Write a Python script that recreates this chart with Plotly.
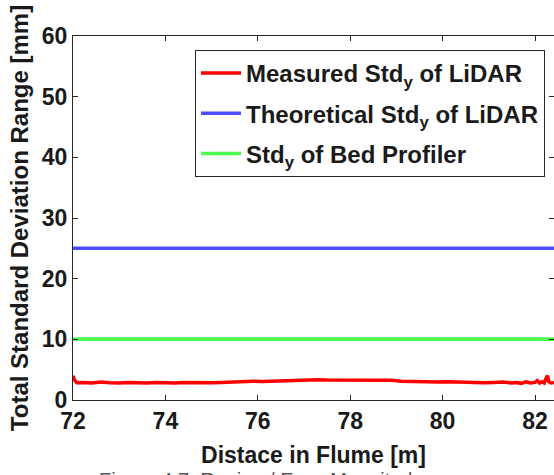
import plotly.graph_objects as go

# ---- data ----
x_measured = [72.00, 72.03, 72.08,
              72.2, 72.4, 72.6, 72.8, 73.0, 73.2, 73.4, 73.6, 73.8, 74.0, 74.2, 74.4, 74.6, 74.8, 75.0, 75.2, 75.4,
              75.5, 75.7, 75.9, 76.1, 76.3, 76.5, 76.7, 76.9, 77.1, 77.3, 77.5, 77.7, 77.9, 78.1, 78.3,
              78.5, 78.7, 78.9, 79.1, 79.3, 79.5, 79.7, 79.9, 80.1, 80.3, 80.5, 80.7, 80.9, 81.1, 81.3, 81.5,
              81.6, 81.7, 81.8, 81.9, 82.0,
              82.05, 82.1, 82.15, 82.2, 82.24, 82.27, 82.3, 82.35, 82.41]
y_measured = [4.0, 3.3, 2.85,
              2.9, 2.8, 2.95, 2.85, 2.8, 2.9, 2.85, 2.8, 2.9, 2.85, 2.8, 2.9, 2.85, 2.9, 2.85, 2.9, 2.95,
              3.05, 3.0, 3.1, 3.05, 3.1, 3.1, 3.25, 3.3, 3.3, 3.35, 3.3, 3.3, 3.35, 3.3, 3.3,
              3.3, 3.3, 3.25, 3.1, 3.05, 3.1, 3.05, 2.95, 3.0, 2.95, 2.9, 2.95, 2.85, 2.9, 2.95, 2.8,
              2.9, 2.75, 3.0, 2.8, 2.9,
              3.2, 2.8, 3.0, 2.8, 3.6, 4.0, 3.0, 2.8, 2.9]
x_const = [72.0, 82.5]
y_theoretical = [25, 25]
y_bed_profiler = [10, 10]

names = ["Measured Std<sub>y</sub> of LiDAR",
         "Theoretical Std<sub>y</sub> of LiDAR",
         "Std<sub>y</sub> of Bed Profiler"]
colors = ["#FF0000", "#4D4DFF", "#4DFF4D"]

x_ticks = [72, 74, 76, 78, 80, 82]
y_ticks = [0, 10, 20, 30, 40, 50, 60]

W, H = 554, 475
L, T, B, R = 73, 36, 75, 0
px_per_unit = 46.2
x_range = [72, 72 + (W - L - R) / px_per_unit]
y_range = [0, 60]

FONT = "Liberation Sans, Arial, sans-serif"
AX = "#262626"

fig = go.Figure()
series = [(x_measured, y_measured), (x_const, y_theoretical), (x_const, y_bed_profiler)]
for i, (xs, ys) in enumerate(series):
    fig.add_trace(go.Scatter(x=xs, y=ys, mode="lines", name=f"<b>{names[i]}</b>",
                             legendgroup=f"g{i}",
                             line=dict(color=colors[i], width=3.5)))
# same green line on the right-hand axis so that its mirrored ticks get drawn
fig.add_trace(go.Scatter(x=x_const, y=y_bed_profiler, mode="lines", yaxis="y2", showlegend=False,
                         hoverinfo="skip", line=dict(color=colors[2], width=3.5)))

tickfont = dict(family=FONT, size=23, color="#1a1a1a")

fig.update_layout(
    width=W, height=H,
    margin=dict(l=L, r=R, t=T, b=B, pad=0),
    paper_bgcolor="white", plot_bgcolor="white",
    font=dict(family=FONT, size=22, color="#1a1a1a"),
    showlegend=True,
    legend=dict(
        x=(195 - L) / (W - L - R), y=(400 - 50) / (400 - T),
        xanchor="left", yanchor="top",
        bgcolor="white", bordercolor=AX, borderwidth=1,
        font=dict(family=FONT, size=24, color="#1a1a1a"),
        itemwidth=40, tracegroupgap=6,
    ),
    xaxis=dict(
        range=x_range, tickvals=x_ticks, ticktext=[f"<b>{v}</b>" for v in x_ticks],
        showline=True, linecolor=AX, linewidth=1, mirror="ticks",
        ticks="inside", ticklen=5, tickcolor=AX, tickwidth=1,
        showgrid=False, zeroline=False, tickfont=tickfont,
        title=dict(text="<b>Distace in Flume [m]</b>", font=dict(family=FONT, size=23), standoff=14),
    ),
    yaxis=dict(
        range=y_range, tickvals=y_ticks, ticktext=[f"<b>{v}</b>" for v in y_ticks],
        showline=True, linecolor=AX, linewidth=1, mirror=False,
        ticks="inside", ticklen=5, tickcolor=AX, tickwidth=1,
        showgrid=False, zeroline=False, tickfont=tickfont,
        title=dict(text="<b>Total Standard Deviation Range [mm]</b>", font=dict(family=FONT, size=24), standoff=6),
    ),
    yaxis2=dict(
        range=y_range, tickvals=y_ticks, overlaying="y", side="right", anchor="x",
        showline=False, ticks="inside", ticklen=5, tickcolor=AX, tickwidth=1,
        showticklabels=False, showgrid=False, zeroline=False,
    ),
    annotations=[dict(
        text="Figure 4.7: Region / Error Magnitude", xref="paper", yref="paper",
        x=(97 - L) / (W - L - R), y=(400 - 467) / (400 - T), xanchor="left", yanchor="top",
        showarrow=False, font=dict(family=FONT, size=20, color="#555555"),
    )],
)

fig.write_html("out.html")
